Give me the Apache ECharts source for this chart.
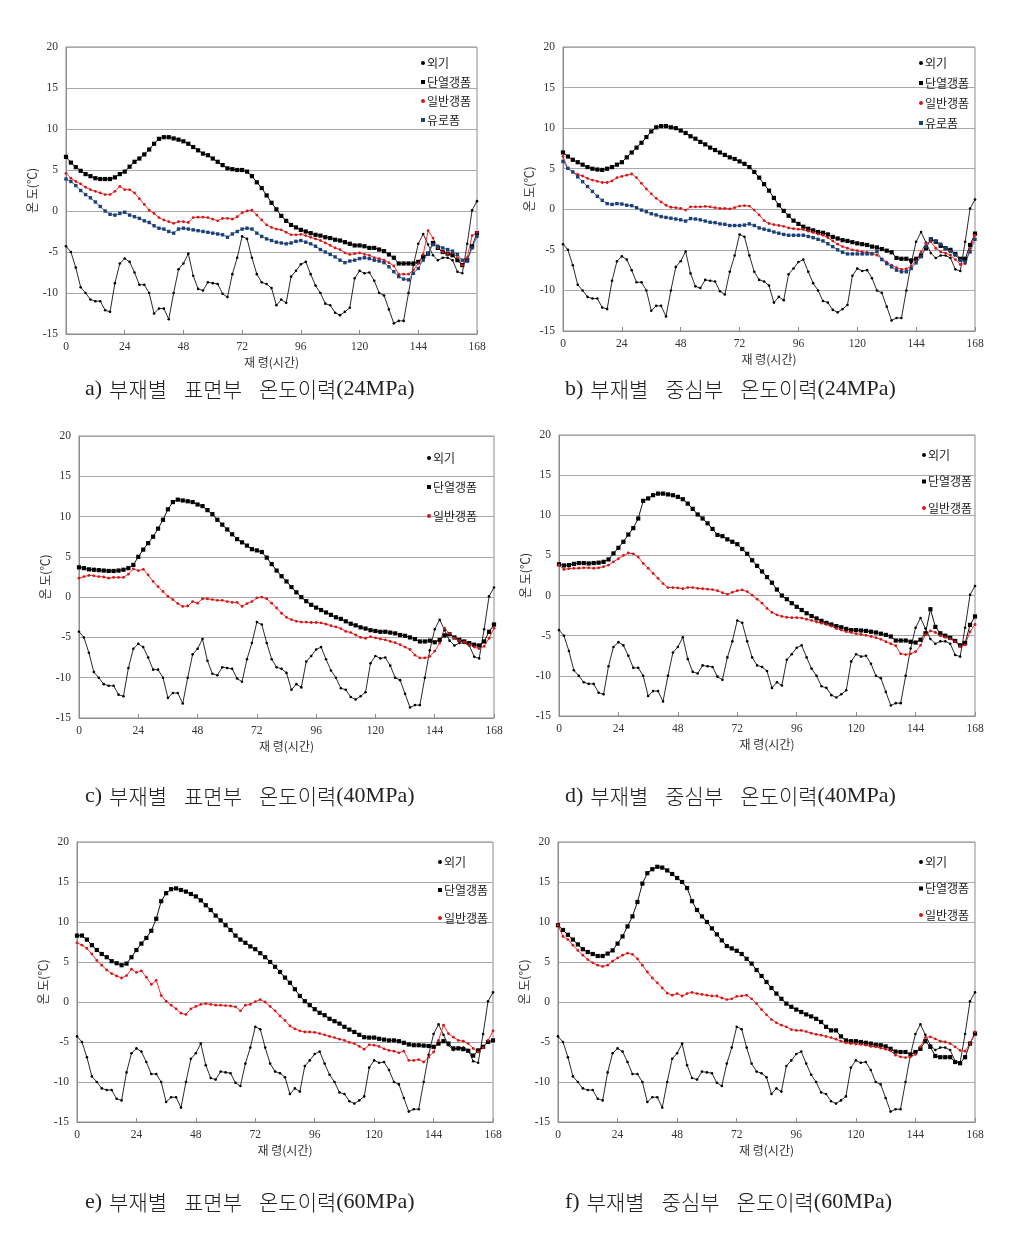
<!DOCTYPE html>
<html>
<head>
<meta charset="utf-8">
<script src="https://cdn.jsdelivr.net/npm/echarts@6/dist/echarts.min.js"></script>
<style>
html,body{margin:0;padding:0;background:#fff;}
#main{width:1019px;height:1237px;}
</style>
</head>
<body>
<div id="main"></div>
<script>
// ---------- DATA ----------
const hours = [0,2,4,6,8,10,12,14,16,18,20,22,24,26,28,30,32,34,36,38,40,42,44,46,48,50,52,54,56,58,60,62,64,66,68,70,72,74,76,78,80,82,84,86,88,90,92,94,96,98,100,102,104,106,108,110,112,114,116,118,120,122,124,126,128,130,132,134,136,138,140,142,144,146,148,150,152,154,156,158,160,162,164,166,168];
const xTicks = [0,24,48,72,96,120,144,168];
const yTicks = [-15,-10,-5,0,5,10,15,20];

// outside air (외기) - same in every panel
const outside = [-4.3,-5.0,-6.9,-9.3,-10.0,-10.8,-11.0,-11.0,-12.1,-12.3,
 -8.8,-6.4,-5.8,-6.2,-7.5,-9.0,-9.0,-10.0,-12.5,-11.9,
 -11.9,-13.2,-10.0,-7.1,-6.4,-5.2,-7.9,-9.5,-9.7,-8.7,
 -8.8,-8.9,-10.1,-10.5,-7.7,-5.7,-3.1,-3.4,-5.7,-7.7,
 -8.7,-8.9,-9.4,-11.5,-10.8,-11.2,-8.0,-7.3,-6.5,-6.2,
 -7.7,-9.1,-10.0,-11.3,-11.5,-12.4,-12.7,-12.3,-11.8,-8.2,
 -7.3,-7.6,-7.5,-8.5,-10.0,-10.3,-12.0,-13.7,-13.4,-13.4,
 -10.0,-6.6,-4.0,-2.8,-4.1,-5.4,-6.0,-5.7,-5.7,-6.0,
 -7.4,-7.6,-4.0,0.1,1.2];

// a) surface 24MPa
const aIns = [6.6,5.9,5.35,4.9,4.5,4.25,4.0,3.9,3.9,3.9,
 4.1,4.5,4.8,5.4,6.0,6.4,6.9,7.5,8.2,8.8,
 9.0,9.0,8.85,8.7,8.5,8.2,7.8,7.4,7.0,6.8,
 6.4,6.0,5.6,5.2,5.1,5.0,5.0,4.8,4.25,3.5,
 2.8,1.9,1.0,0.2,-0.6,-1.2,-1.7,-2.0,-2.3,-2.5,
 -2.7,-2.9,-3.0,-3.2,-3.3,-3.5,-3.6,-3.8,-4.0,-4.2,
 -4.2,-4.3,-4.5,-4.5,-4.7,-4.9,-5.3,-5.7,-6.4,-6.4,
 -6.4,-6.4,-6.2,-5.6,-5.2,-3.9,-4.5,-5.0,-5.2,-5.4,
 -6.0,-6.6,-6.0,-4.3,-2.7];
const aGen = [4.6,4.0,3.6,3.3,2.9,2.6,2.4,2.2,2.0,2.0,
 2.4,3.0,2.6,2.6,2.2,1.5,0.8,0.1,-0.3,-0.8,
 -1.1,-1.3,-1.5,-1.3,-1.3,-1.4,-0.8,-0.75,-0.75,-0.8,
 -1.0,-1.2,-0.9,-0.9,-1.0,-0.7,-0.2,0.0,0.1,-0.5,
 -1.1,-1.7,-2.0,-2.2,-2.3,-2.6,-2.9,-2.9,-2.85,-3.0,
 -3.2,-3.4,-3.6,-3.9,-4.2,-4.5,-4.7,-5.1,-5.3,-5.2,
 -5.1,-5.3,-5.4,-5.7,-5.8,-6.0,-6.3,-6.7,-7.7,-7.7,
 -7.7,-7.2,-6.4,-5.3,-2.4,-3.3,-4.5,-5.0,-5.2,-5.1,
 -5.7,-6.6,-5.7,-3.0,-2.6];
const aEuro = [3.9,3.6,3.1,2.5,2.0,1.6,1.1,0.55,0.0,-0.4,
 -0.5,-0.3,-0.15,-0.5,-0.7,-0.9,-1.2,-1.4,-1.8,-2.1,
 -2.2,-2.5,-2.7,-2.2,-2.1,-2.2,-2.3,-2.4,-2.5,-2.6,
 -2.7,-2.8,-2.9,-3.2,-2.8,-2.5,-2.2,-2.1,-2.2,-2.7,
 -3.1,-3.4,-3.6,-3.8,-3.9,-4.0,-3.9,-3.7,-3.6,-3.8,
 -4.0,-4.3,-4.7,-5.0,-5.3,-5.6,-6.0,-6.3,-6.1,-6.0,
 -5.8,-5.7,-5.8,-6.0,-6.1,-6.3,-6.8,-7.4,-8.0,-8.3,
 -8.4,-7.6,-7.0,-6.0,-5.2,-4.1,-4.3,-4.5,-4.7,-4.9,
 -5.3,-6.0,-6.1,-4.5,-3.1];

// b) core 24MPa
const bIns = [7.0,6.5,6.1,5.8,5.5,5.2,5.0,4.9,4.85,5.0,
 5.2,5.5,5.8,6.4,7.0,7.6,8.2,8.9,9.6,10.1,
 10.25,10.25,10.1,10.0,9.7,9.4,9.0,8.7,8.3,8.0,
 7.6,7.3,7.0,6.7,6.4,6.2,5.9,5.6,5.2,4.6,
 3.9,3.1,2.3,1.4,0.5,-0.2,-0.8,-1.4,-1.8,-2.15,
 -2.4,-2.6,-2.8,-2.9,-3.1,-3.4,-3.6,-3.8,-3.9,-4.05,
 -4.2,-4.3,-4.4,-4.6,-4.7,-4.9,-5.1,-5.3,-6.0,-6.1,
 -6.1,-6.3,-6.1,-5.7,-4.8,-3.7,-4.0,-4.5,-4.8,-5.0,
 -5.5,-6.1,-6.1,-4.4,-3.0];
const bGen = [6.5,5.0,4.6,4.3,4.1,3.8,3.6,3.45,3.3,3.3,
 3.5,3.9,4.05,4.2,4.35,3.9,3.2,2.5,1.9,1.35,
 0.9,0.5,0.25,0.2,0.1,-0.1,0.3,0.3,0.3,0.35,
 0.3,0.2,0.1,0.1,0.05,0.2,0.4,0.45,0.4,-0.1,
 -0.7,-1.4,-1.75,-1.9,-2.0,-2.1,-2.3,-2.4,-2.45,-2.5,
 -2.7,-2.85,-3.05,-3.2,-3.5,-3.9,-4.3,-4.6,-4.8,-5.0,
 -5.1,-5.25,-5.3,-5.4,-5.65,-6.1,-6.5,-6.9,-7.2,-7.4,
 -7.35,-7.0,-6.4,-5.25,-4.2,-4.0,-4.8,-5.25,-5.4,-5.65,
 -6.2,-6.8,-6.7,-4.85,-3.2];
const bEuro = [5.9,5.05,4.6,4.0,3.4,2.8,2.2,1.6,1.1,0.7,
 0.6,0.7,0.65,0.5,0.45,0.2,-0.1,-0.3,-0.55,-0.7,
 -0.9,-1.0,-1.1,-1.2,-1.3,-1.45,-1.15,-1.2,-1.3,-1.45,
 -1.6,-1.65,-1.8,-1.85,-2.0,-2.0,-2.0,-1.95,-1.8,-2.0,
 -2.3,-2.45,-2.6,-2.8,-2.95,-3.1,-3.2,-3.2,-3.2,-3.2,
 -3.35,-3.5,-3.7,-3.9,-4.25,-4.6,-5.0,-5.3,-5.5,-5.5,
 -5.5,-5.5,-5.5,-5.5,-5.2,-6.2,-6.7,-7.1,-7.5,-7.7,
 -7.7,-7.3,-6.6,-5.85,-4.6,-3.65,-3.9,-4.3,-4.8,-5.2,
 -5.65,-6.3,-6.5,-5.25,-3.7];

// c) surface 40MPa
const cIns = [3.7,3.6,3.45,3.4,3.35,3.3,3.25,3.25,3.3,3.4,
 3.6,4.0,5.0,5.9,6.7,7.5,8.5,9.6,10.9,11.8,
 12.1,12.0,11.9,11.8,11.5,11.3,10.8,10.3,9.6,9.0,
 8.4,7.8,7.2,6.8,6.4,5.95,5.8,5.6,4.9,4.1,
 3.3,2.6,1.95,1.25,0.6,0.0,-0.5,-0.95,-1.3,-1.6,
 -1.9,-2.2,-2.5,-2.7,-3.0,-3.3,-3.5,-3.75,-3.9,-4.1,
 -4.2,-4.3,-4.3,-4.4,-4.5,-4.7,-4.8,-5.0,-5.2,-5.5,
 -5.5,-5.4,-5.6,-5.3,-4.75,-4.6,-5.0,-5.3,-5.5,-5.7,
 -5.9,-6.0,-5.5,-4.3,-3.4];
const cGen = [2.35,2.55,2.7,2.65,2.55,2.5,2.35,2.45,2.45,2.45,
 2.85,3.5,3.3,3.45,2.75,1.95,1.3,0.7,0.1,-0.3,
 -0.8,-1.15,-1.1,-0.55,-0.75,-0.2,-0.2,-0.3,-0.4,-0.4,
 -0.55,-0.65,-0.65,-1.15,-0.8,-0.55,-0.1,0.0,-0.2,-0.75,
 -1.35,-2.0,-2.5,-2.8,-3.0,-3.1,-3.1,-3.15,-3.15,-3.2,
 -3.35,-3.55,-3.7,-3.9,-4.25,-4.4,-4.7,-5.0,-5.1,-4.9,
 -5.05,-5.2,-5.3,-5.5,-5.65,-5.9,-6.2,-6.5,-7.2,-7.55,
 -7.55,-7.35,-6.7,-5.7,-3.85,-4.5,-5.1,-5.4,-5.6,-5.9,
 -6.2,-6.4,-6.1,-5.1,-3.85];

// d) core 40MPa
const dIns = [3.9,3.75,3.8,3.95,4.05,4.05,4.0,4.05,4.1,4.2,
 4.5,5.25,5.95,6.7,7.6,8.4,9.6,11.8,12.1,12.5,
 12.7,12.7,12.6,12.5,12.3,12.0,11.45,10.8,10.1,9.6,
 9.0,8.3,7.55,7.4,7.0,6.7,6.4,5.8,5.2,4.4,
 3.7,3.0,2.3,1.6,0.75,0.0,-0.45,-0.95,-1.4,-1.8,
 -2.2,-2.55,-2.85,-3.15,-3.4,-3.6,-3.8,-3.95,-4.15,-4.3,
 -4.3,-4.35,-4.4,-4.5,-4.6,-4.75,-4.9,-5.1,-5.6,-5.6,
 -5.6,-5.75,-5.85,-5.5,-4.7,-1.7,-3.9,-4.7,-5.0,-5.25,
 -5.65,-6.2,-5.9,-3.65,-2.6];
const dGen = [3.8,3.25,3.35,3.4,3.4,3.45,3.45,3.4,3.45,3.6,
 3.8,4.2,4.6,5.0,5.3,5.2,4.8,4.0,3.4,2.75,
 2.15,1.5,1.0,1.0,0.95,0.85,1.0,1.0,0.9,0.85,
 0.8,0.75,0.6,0.35,0.15,0.4,0.6,0.7,0.5,0.05,
 -0.45,-0.95,-1.6,-2.1,-2.4,-2.6,-2.7,-2.75,-2.75,-2.8,
 -2.95,-3.1,-3.3,-3.45,-3.6,-3.8,-4.1,-4.3,-4.5,-4.6,
 -4.75,-4.85,-4.95,-5.1,-5.25,-5.45,-5.75,-6.0,-6.25,-7.25,
 -7.35,-7.25,-7.0,-6.2,-4.85,-4.4,-4.6,-5.0,-5.2,-5.4,
 -5.75,-6.35,-6.15,-4.5,-3.6];

// e) surface 60MPa
const eIns = [8.3,8.3,7.8,7.1,6.5,6.0,5.6,5.1,4.85,4.6,
 4.8,5.6,6.5,7.3,8.0,8.9,10.4,12.6,13.6,14.1,
 14.2,14.0,13.8,13.5,13.2,12.7,12.1,11.5,10.8,10.2,
 9.6,9.0,8.3,7.8,7.4,6.95,6.6,6.1,5.6,5.0,
 4.4,3.75,3.05,2.4,1.6,0.75,0.1,-0.4,-0.9,-1.35,
 -1.65,-2.1,-2.4,-2.7,-3.1,-3.45,-3.75,-4.1,-4.4,-4.45,
 -4.45,-4.6,-4.7,-4.8,-4.8,-4.9,-5.1,-5.3,-5.4,-5.4,
 -5.45,-5.5,-5.6,-5.2,-4.9,-5.2,-5.8,-5.8,-5.9,-6.1,
 -6.7,-6.05,-5.6,-5.0,-4.8];
const eGen = [7.4,7.1,6.7,6.0,5.2,4.6,4.0,3.55,3.25,3.0,
 3.3,4.1,3.7,3.9,3.1,2.2,2.7,0.8,0.1,-0.4,
 -0.85,-1.4,-1.55,-0.85,-0.55,-0.3,-0.2,-0.3,-0.4,-0.4,
 -0.45,-0.5,-0.6,-1.1,-0.4,-0.3,0.05,0.3,0.0,-0.55,
 -1.1,-1.75,-2.3,-3.0,-3.35,-3.6,-3.75,-3.75,-3.8,-3.95,
 -4.1,-4.3,-4.45,-4.65,-4.8,-5.05,-5.2,-5.55,-5.9,-5.35,
 -5.4,-5.55,-5.85,-6.05,-6.15,-6.35,-6.15,-7.3,-7.3,-7.2,
 -7.5,-6.9,-6.25,-4.8,-2.9,-3.95,-4.4,-4.8,-4.9,-5.2,
 -5.8,-6.25,-5.7,-4.8,-3.6];

// f) core 60MPa
const fIns = [9.6,9.0,8.4,7.8,7.2,6.6,6.25,6.0,5.75,5.75,
 6.05,6.45,7.3,8.2,9.45,10.7,12.5,14.8,16.1,16.6,
 16.9,16.8,16.45,16.0,15.5,15.0,14.25,12.6,11.5,10.7,
 10.0,9.2,8.45,7.7,7.0,6.7,6.4,6.0,5.4,4.8,
 4.0,3.25,2.5,1.75,1.05,0.4,-0.2,-0.6,-0.95,-1.25,
 -1.55,-1.8,-2.1,-2.5,-3.1,-3.55,-3.55,-4.3,-4.8,-4.9,
 -4.9,-5.0,-5.1,-5.2,-5.35,-5.4,-5.55,-5.85,-6.2,-6.25,
 -6.25,-6.55,-6.25,-5.85,-4.9,-5.6,-6.75,-6.9,-6.9,-6.9,
 -7.5,-7.65,-6.9,-5.2,-3.95];
const fGen = [9.6,8.2,7.8,7.1,6.45,5.85,5.3,4.9,4.6,4.45,
 4.6,5.1,5.5,5.85,6.1,5.95,5.4,4.6,3.75,3.0,
 2.4,1.75,1.1,0.85,1.05,0.75,1.05,1.2,1.05,0.95,
 0.85,0.75,0.75,0.5,0.3,0.4,0.7,0.75,0.85,0.4,
 -0.2,-0.95,-1.6,-2.2,-2.6,-2.9,-3.1,-3.45,-3.55,-3.55,
 -3.7,-3.9,-4.05,-4.15,-4.3,-4.45,-4.65,-4.9,-5.1,-5.2,
 -5.25,-5.3,-5.4,-5.55,-5.6,-5.75,-5.9,-6.1,-6.65,-6.85,
 -6.95,-6.85,-6.55,-5.6,-4.45,-4.35,-4.6,-4.9,-5.0,-5.2,
 -5.6,-6.05,-6.15,-5.2,-3.75];

// caption parts
const captionLabels = ['a)','b)','c)','d)','e)','f)'];
const captionPart = ['표면부','중심부','표면부','중심부','표면부','중심부'];
const captionMPa = ['(24MPa)','(24MPa)','(40MPa)','(40MPa)','(60MPa)','(60MPa)'];
const xName = '재 령(시간)';
const yName = '온 도(℃)';

// ---------- LAYOUT ----------
const panels = [
 {grid:{left:66,top:47,width:411,height:287}, data:[['외기',outside],['단열갱폼',aIns],['일반갱폼',aGen],['유로폼',aEuro]], leg:{x:416,y:58,gap:19}, cap:{x:85,y:390}},
 {grid:{left:563,top:47,width:412,height:284}, data:[['외기',outside],['단열갱폼',bIns],['일반갱폼',bGen],['유로폼',bEuro]], leg:{x:914,y:58,gap:20}, cap:{x:565,y:390}},
 {grid:{left:79,top:436,width:415,height:282}, data:[['외기',outside],['단열갱폼',cIns],['일반갱폼',cGen]], leg:{x:422,y:453,gap:29}, cap:{x:85,y:797}},
 {grid:{left:559,top:435,width:416,height:281}, data:[['외기',outside],['단열갱폼',dIns],['일반갱폼',dGen]], leg:{x:917,y:450,gap:26.5}, cap:{x:565,y:797}},
 {grid:{left:77,top:842,width:416,height:280}, data:[['외기',outside],['단열갱폼',eIns],['일반갱폼',eGen]], leg:{x:433,y:857,gap:28}, cap:{x:85,y:1203}},
 {grid:{left:558,top:842,width:417,height:280}, data:[['외기',outside],['단열갱폼',fIns],['일반갱폼',fGen]], leg:{x:914,y:857,gap:26.5}, cap:{x:565,y:1203}}
];

const styles = {
 '외기':   {line:'#111111', width:0.9, symbol:'circle', size:2.6, mark:'#000000', icon:'circle'},
 '단열갱폼': {line:'#111111', width:1.0, symbol:'rect', size:4.2, mark:'#000000', icon:'rect'},
 '일반갱폼': {line:'#ff2a2a', width:1.0, symbol:'circle', size:2.8, mark:'#d01818', icon:'circle'},
 '유로폼':  {line:'#3f78b8', width:1.0, symbol:'rect', size:3.4, mark:'#1d3f73', icon:'rect'}
};

const grids=[], xAxes=[], yAxes=[], series=[], legends=[], graphics=[];
const axisFont = "'Liberation Serif'";
const koFont = "'Noto Sans CJK KR'";

panels.forEach((p,i)=>{
  p.data.forEach(d=>{ if(d[1].length!==hours.length) throw new Error('length mismatch panel '+i+' '+d[0]+' '+d[1].length); });
  grids.push(Object.assign({show:true, borderColor:'#8c8c8c', borderWidth:1, backgroundColor:'#fff'}, p.grid));
  xAxes.push({type:'value', gridIndex:i, min:0, max:168, interval:24,
    name:xName, nameLocation:'middle', nameGap:22,
    nameTextStyle:{fontFamily:koFont, fontSize:12, color:'#333'},
    axisLine:{show:true, onZero:false, lineStyle:{color:'#8c8c8c'}},
    axisTick:{show:true, inside:true, length:4, lineStyle:{color:'#8c8c8c'}},
    axisLabel:{fontFamily:axisFont, fontSize:11.5, color:'#333', margin:7},
    splitLine:{show:false}});
  yAxes.push({type:'value', gridIndex:i, min:-15, max:20, interval:5,
    name:yName, nameLocation:'middle', nameGap:27,
    nameTextStyle:{fontFamily:koFont, fontSize:12, color:'#333'},
    axisLine:{show:true, lineStyle:{color:'#8c8c8c'}},
    axisTick:{show:false},
    axisLabel:{fontFamily:axisFont, fontSize:11.5, color:'#333', margin:8},
    splitLine:{show:true, lineStyle:{color:'#a8a8a8', width:1}}});
  p.data.forEach(d=>{
    const s = styles[d[0]];
    series.push({type:'line', name:d[0], xAxisIndex:i, yAxisIndex:i,
      data: hours.map((h,k)=>[h, d[1][k]]),
      symbol:s.symbol, symbolSize:s.size, showSymbol:true,
      lineStyle:{color:s.line, width:s.width},
      itemStyle:{color:s.mark},
      smooth:false, silent:true, animation:false});
  });
  legends.push({orient:'vertical', left:p.leg.x, top:p.leg.y-7, itemGap:p.leg.gap-14,
    itemWidth:4, itemHeight:4, selectedMode:false,
    textStyle:{fontFamily:koFont, fontSize:12, color:'#222', lineHeight:14, padding:[0,0,0,-3]},
    data:p.data.map(d=>({name:d[0], icon:styles[d[0]].icon, itemStyle:{color:styles[d[0]].mark}}))});
  const capText = '{l|' + captionLabels[i] + '}{s1| }{k|부재별}{s2| }{k|' + captionPart[i] + '}{s2| }{k|온도이력}{l|' + captionMPa[i] + '}';
  graphics.push({type:'text', left:p.cap.x, top:p.cap.y-12,
    style:{text:capText, fill:'#222',
      rich:{
        l:{fontFamily:"'Liberation Serif'", fontSize:22, fill:'#222', lineHeight:24},
        k:{fontFamily:"'Noto Sans CJK KR'", fontSize:21, fill:'#222', lineHeight:24, fontWeight:300},
        s1:{width:7, fontSize:12},
        s2:{width:17, fontSize:12}
      }}});
});

const chart = echarts.init(document.getElementById('main'), null, {renderer:'canvas', width:1019, height:1237});
chart.setOption({
  animation:false,
  backgroundColor:'#ffffff',
  grid:grids, xAxis:xAxes, yAxis:yAxes, series:series, legend:legends, graphic:graphics
});
</script>
</body>
</html>
